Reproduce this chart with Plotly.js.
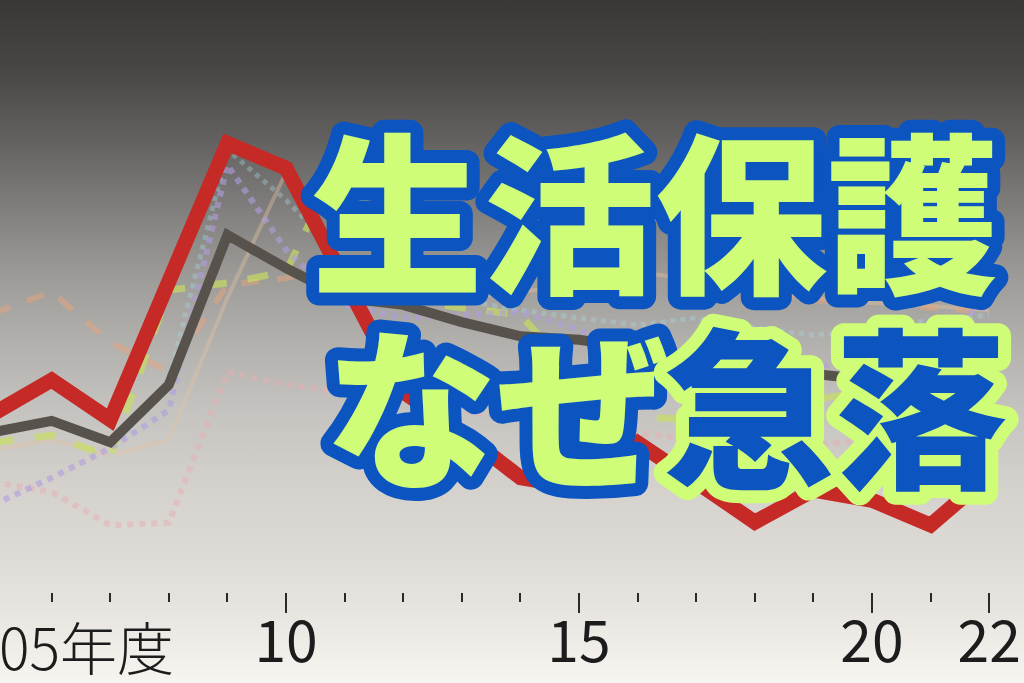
<!DOCTYPE html>
<html>
<head>
<meta charset="utf-8">
<script src="https://cdn.plot.ly/plotly-3.0.1.min.js"></script>
<style>
  html, body { margin: 0; padding: 0; }
  #chart {
    width: 1024px; height: 683px;
    background: linear-gradient(to bottom,
      #393836 0%, #484645 10%, #62605e 20%, #7f7d7b 30%, #9c9a97 40%,
      #b2b0ad 50%, #c5c3bf 60%, #d3d0cc 70%, #dddad6 80%, #e6e3df 88%, #f8f4ef 100%);
  }
</style>
</head>
<body>
<div id="chart"></div>
<script>
// 年度 (fiscal years)
const years = [2005, 2006, 2007, 2008, 2009, 2010, 2011, 2012, 2013, 2014, 2015, 2016, 2017, 2018, 2019, 2020, 2021, 2022];

// main series (index values)
const redSeries  = [30.1, 35.8, 29.1, 51.9, 75.8, 71.6, 52.7, 33.8, 27.0, 19.3, 17.6, 25.2, 18.6, 11.8, 17.2, 15.5, 11.3, 19.8];
const graySeries = [27.0, 28.9, 25.3, 35.0, 60.3, 54.7, 49.7, 48.5, 45.6, 43.2, 42.6, 41.2, 38.9, 37.8, 36.5, 35.8, 36.1, 38.3];

// faint background series
const orangeSeries = [47.1, 50.7, 42.2, 37.2, 51.9, 53.0, 55.7, 55.2, 54.7, 54.4, 54.4, 54.1, 52.4, 50.7, 49.3, 48.8, 48.0, 47.3];
const tanSeries    = [24.0, 25.7, 23.1, 25.7, 49.7, 70.9, 51.0, 49.3, 49.7, 50.7, 51.9, 54.1, 52.7, 51.0, 49.7, 48.8, 48.3, 47.6];
const purpleSeries = [14.7, 19.3, 24.3, 30.7, 72.1, 57.8, 48.5, 46.3, 46.8, 47.3, 44.3, 39.2, 37.5, 35.8, 37.5, 40.9, 44.3, 48.5];
const pinkSeries   = [18.6, 16.9, 11.3, 11.7, 37.2, 35.0, 33.8, 32.1, 30.7, 29.1, 28.2, 27.0, 25.7, 24.0, 24.8, 25.7, 24.0, 27.0];
const greenSeries  = [25.2, 26.5, 22.8, 51.0, 52.2, 54.1, 74.7, 49.3, 48.0, 46.8, 35.8, 29.6, 29.1, 30.7, 32.4, 34.1, 35.8, 37.5];
const cyanSeries   = [null, null, 23.1, 35.8, 74.7, 66.2, 56.1, 51.0, 49.3, 47.6, 46.3, 45.1, 46.3, 44.6, 43.4, 44.3, 45.9, 46.8];

const tickYears  = [2010, 2015, 2020, 2022];
const tickLabels = ['10', '15', '20', '22'];
const firstLabel = '05年度';
const titleLine1 = '生活保護';
const titleLine2a = 'なぜ';
const titleLine2b = '急落';

const GREEN = '#d0fd78';
const BLUE = '#0c54c0';

function faint(y, color, width, dash, opacity) {
  return { x: years, y: y, type: 'scatter', mode: 'lines', hoverinfo: 'skip',
           line: { color: color, width: width, dash: dash }, opacity: opacity, connectgaps: false };
}

const traces = [
  faint(tanSeries,    '#e2c2a2', 4, 'solid', 0.4),
  faint(orangeSeries, '#e6a47c', 6, 'dash', 0.5),
  faint(pinkSeries,   '#e6aeb0', 6, 'dot', 0.5),
  faint(cyanSeries,   '#a6dbe6', 5, 'dot', 0.35),
  faint(greenSeries,  '#c8e05a', 7, 'dash', 0.65),
  faint(purpleSeries, '#b09de0', 6, 'dot', 0.6),
  { x: years, y: graySeries, type: 'scatter', mode: 'lines', hoverinfo: 'skip',
    line: { color: '#57524c', width: 10 } },
  { x: years, y: redSeries, type: 'scatter', mode: 'lines', hoverinfo: 'skip',
    line: { color: '#c62a27', width: 15 } }
];

const tickFont = { family: '"Liberation Sans Narrow", "Noto Sans CJK JP", sans-serif', size: 57, color: '#1c1c1c' };
const labelFont = { family: '"Liberation Sans Narrow", "Noto Sans CJK JP", sans-serif', size: 57, color: '#1c1c1c', weight: 300 };
const bigFont = (c) => ({ family: '"Noto Sans CJK JP", sans-serif', size: 172, color: c, weight: 900 });

const layout = {
  width: 1024, height: 683,
  margin: { l: 0, r: 0, t: 0, b: 91, pad: 0 },
  paper_bgcolor: 'rgba(0,0,0,0)', plot_bgcolor: 'rgba(0,0,0,0)',
  showlegend: false,
  xaxis: {
    range: [2005.119, 2022.594], showgrid: false, zeroline: false, showline: false,
    tickmode: 'array', tickvals: tickYears, ticktext: tickLabels,
    ticks: 'outside', ticklen: 20, tickwidth: 2, tickcolor: '#2a2a2a',
    tickfont: tickFont, ticklabelstandoff: -19,
    minor: { tickmode: 'linear', tick0: 2005, dtick: 1, ticks: 'outside', ticklen: 9, tickwidth: 2, tickcolor: '#2a2a2a', showgrid: false },
    fixedrange: true
  },
  yaxis: { range: [0, 100], visible: false, fixedrange: true },
  annotations: [
    { text: titleLine1, xref: 'paper', yref: 'paper', x: 655 / 1024, y: (592 - 205) / 592,
      xanchor: 'center', yanchor: 'middle', showarrow: false, font: bigFont(GREEN) },
    { text: titleLine2a, xref: 'paper', yref: 'paper', x: 497 / 1024, y: (592 - 400) / 592,
      xanchor: 'center', yanchor: 'middle', showarrow: false, font: bigFont(GREEN) },
    { text: titleLine2b, xref: 'paper', yref: 'paper', x: 835 / 1024, y: (592 - 400) / 592,
      xanchor: 'center', yanchor: 'middle', showarrow: false, font: bigFont(BLUE) },
    { text: firstLabel, xref: 'paper', yref: 'paper', x: 86 / 1024, y: (592 - 645) / 592,
      xanchor: 'center', yanchor: 'middle', showarrow: false, font: labelFont }
  ]
};

const outline = {};
outline[titleLine1]  = { fill: GREEN, stroke: BLUE };
outline[titleLine2a] = { fill: GREEN, stroke: BLUE };
outline[titleLine2b] = { fill: BLUE,  stroke: GREEN };

Plotly.newPlot('chart', traces, layout, { staticPlot: true, displayModeBar: false }).then(function (gd) {
  gd.querySelectorAll('g.annotation text').forEach(function (t) {
    const o = outline[t.textContent];
    if (!o) return;
    t.style.fill = o.fill;
    t.style.stroke = o.stroke;
    t.style.strokeWidth = '26px';
    t.style.strokeLinejoin = 'round';
    t.setAttribute('paint-order', 'stroke fill');
    t.style.paintOrder = 'stroke fill';
  });
});
</script>
</body>
</html>
